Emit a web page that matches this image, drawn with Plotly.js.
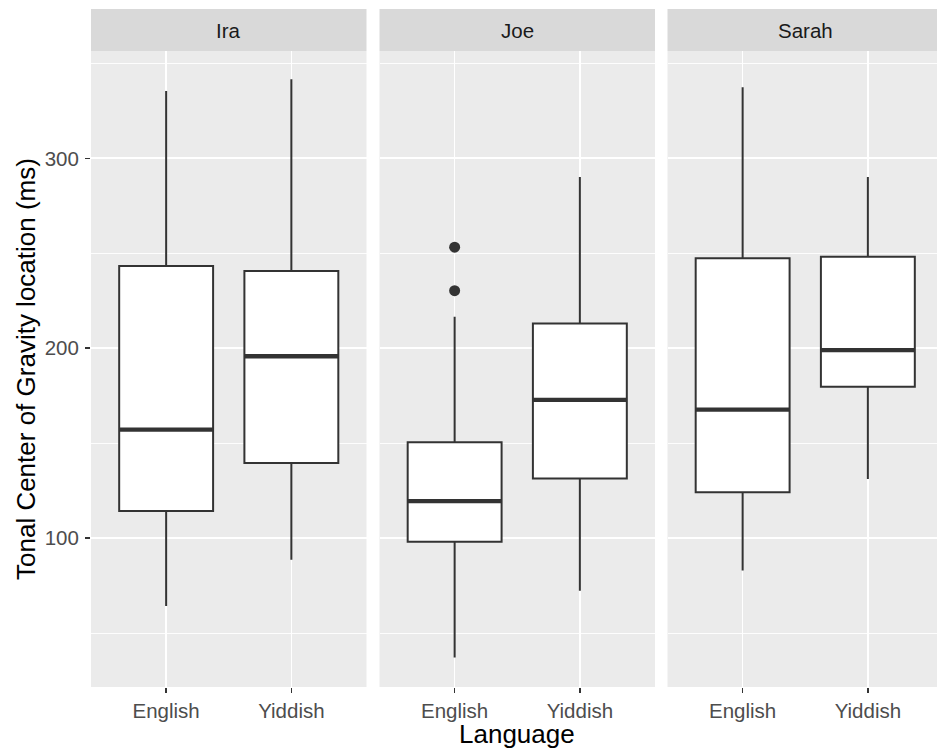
<!DOCTYPE html>
<html>
<head>
<meta charset="utf-8">
<script src="https://cdn.plot.ly/plotly-3.0.1.min.js"></script>
<style>html,body{margin:0;padding:0;background:#fff;}#chart{width:937px;height:755px;}</style>
</head>
<body>
<div id="chart"></div>
<script>
// ---- data ----
const speakers = ['Ira', 'Joe', 'Sarah'];
const languages = ['English', 'Yiddish'];
const lowerWhisker = [[64.4, 88.7], [37.2, 72.4], [83.0, 131.2]];
const q1Vals       = [[114.4, 139.6], [98.1, 131.4], [124.2, 179.8]];
const medianVals   = [[157.2, 195.8], [119.6, 172.8], [167.7, 199.0]];
const q3Vals       = [[243.3, 240.7], [150.5, 213.0], [247.4, 248.2]];
const upperWhisker = [[335.4, 341.6], [216.6, 290.2], [337.4, 290.2]];
const outlierSpeaker = ['Joe', 'Joe'];
const outlierLanguage = ['English', 'English'];
const outlierValues = [253.2, 230.3];
const yTicks = [100, 200, 300];

// ---- layout geometry (pixels) ----
const W = 937, H = 755;
const mL = 91, mR = 0, mT = 51, mB = 68;
const plotW = W - mL - mR, plotH = H - mT - mB;
const panelPx = [[91, 366.5], [379.5, 655], [667.5, 943]];
const pxPerUnit = (366.5 - 91) / 2.2;
const boxWidth = 0.75;
const lineCol = '#333333';
const tickSize = 20.5, titleSize = 26;

const traces = [];
const layout = {
  width: W, height: H,
  margin: {l: mL, r: mR, t: mT, b: mB, pad: 0},
  paper_bgcolor: '#ffffff',
  plot_bgcolor: '#EBEBEB',
  showlegend: false,
  font: {family: 'Liberation Sans, Arial, sans-serif', color: '#4D4D4D', size: tickSize},
  shapes: [], annotations: []
};

speakers.forEach((sp, i) => {
  const xa = i === 0 ? 'x' : 'x' + (i + 1);
  const ya = i === 0 ? 'y' : 'y' + (i + 1);
  const d0 = (panelPx[i][0] - mL) / plotW;
  const d1 = Math.min(1, (panelPx[i][1] - mL) / plotW);
  const visRight = Math.min(panelPx[i][1], W);
  const rangeMax = 0.4 + (visRight - panelPx[i][0]) / pxPerUnit;

  layout[xa.replace('x', 'xaxis')] = {
    domain: [d0, d1], anchor: ya, type: 'linear',
    range: [0.4, rangeMax], fixedrange: true,
    tickvals: [1, 2], ticktext: languages,
    ticks: 'outside', ticklen: 5, tickwidth: 1.6, tickcolor: lineCol,
    showgrid: true, gridcolor: '#ffffff', gridwidth: 1.7,
    zeroline: false, showline: false,
    tickfont: {size: tickSize, color: '#4D4D4D'}
  };
  const yax = {
    domain: [0, 1], anchor: xa, range: [21.7, 356.5],
    tickvals: yTicks,
    showgrid: true, gridcolor: '#ffffff', gridwidth: 1.7,
    minor: {tick0: 50, dtick: 100, showgrid: true, gridcolor: '#ffffff', gridwidth: 0.9},
    zeroline: false, showline: false
  };
  if (i === 0) {
    Object.assign(yax, {ticks: 'outside', ticklen: 5, tickwidth: 1.6, tickcolor: lineCol,
      tickfont: {size: tickSize, color: '#4D4D4D'}, ticklabelstandoff: 2});
  } else {
    Object.assign(yax, {matches: 'y', showticklabels: false, ticks: ''});
  }
  layout[ya.replace('y', 'yaxis')] = yax;

  languages.forEach((lang, j) => {
    traces.push({
      type: 'box', xaxis: xa, yaxis: ya,
      x: [j + 1], q1: [q1Vals[i][j]], median: [medianVals[i][j]], q3: [q3Vals[i][j]],
      lowerfence: [lowerWhisker[i][j]], upperfence: [upperWhisker[i][j]],
      width: boxWidth, whiskerwidth: 0, boxpoints: false,
      fillcolor: '#ffffff', line: {color: lineCol, width: 2},
      hoverinfo: 'skip'
    });
    traces.push({
      type: 'scatter', mode: 'lines', xaxis: xa, yaxis: ya,
      x: [j + 1 - boxWidth / 2, j + 1 + boxWidth / 2],
      y: [medianVals[i][j], medianVals[i][j]],
      line: {color: lineCol, width: 4.3}, hoverinfo: 'skip'
    });
  });

  const ox = [], oy = [];
  outlierValues.forEach((v, k) => {
    if (outlierSpeaker[k] === sp) {
      ox.push(languages.indexOf(outlierLanguage[k]) + 1);
      oy.push(v);
    }
  });
  if (ox.length) {
    traces.push({
      type: 'scatter', mode: 'markers', xaxis: xa, yaxis: ya,
      x: ox, y: oy, marker: {color: lineCol, size: 11}, hoverinfo: 'skip'
    });
  }

  // strip
  const stripTop = 1 + 42 / plotH;
  layout.shapes.push({type: 'rect', xref: 'paper', yref: 'paper',
    x0: d0, x1: d1, y0: 1, y1: stripTop, fillcolor: '#D9D9D9', line: {width: 0}, layer: 'below'});
  layout.annotations.push({xref: 'paper', yref: 'paper',
    x: ((panelPx[i][0] + panelPx[i][1]) / 2 - mL) / plotW, y: 1 + 21 / plotH,
    xanchor: 'center', yanchor: 'middle', showarrow: false, text: sp,
    font: {size: tickSize, color: '#1A1A1A'}});
});

// axis titles
layout.annotations.push({xref: 'paper', yref: 'paper',
  x: ((91 + 943) / 2 - mL) / plotW, y: -(734 - (H - mB)) / plotH,
  xanchor: 'center', yanchor: 'middle', showarrow: false, text: 'Language',
  font: {size: titleSize, color: '#000000'}});
layout.annotations.push({xref: 'paper', yref: 'paper',
  x: -(mL - 26) / plotW, y: 0.5, textangle: -90,
  xanchor: 'center', yanchor: 'middle', showarrow: false,
  text: 'Tonal Center of Gravity location (ms)',
  font: {size: titleSize, color: '#000000'}});

Plotly.newPlot('chart', traces, layout, {staticPlot: true, displayModeBar: false});
</script>
</body>
</html>
